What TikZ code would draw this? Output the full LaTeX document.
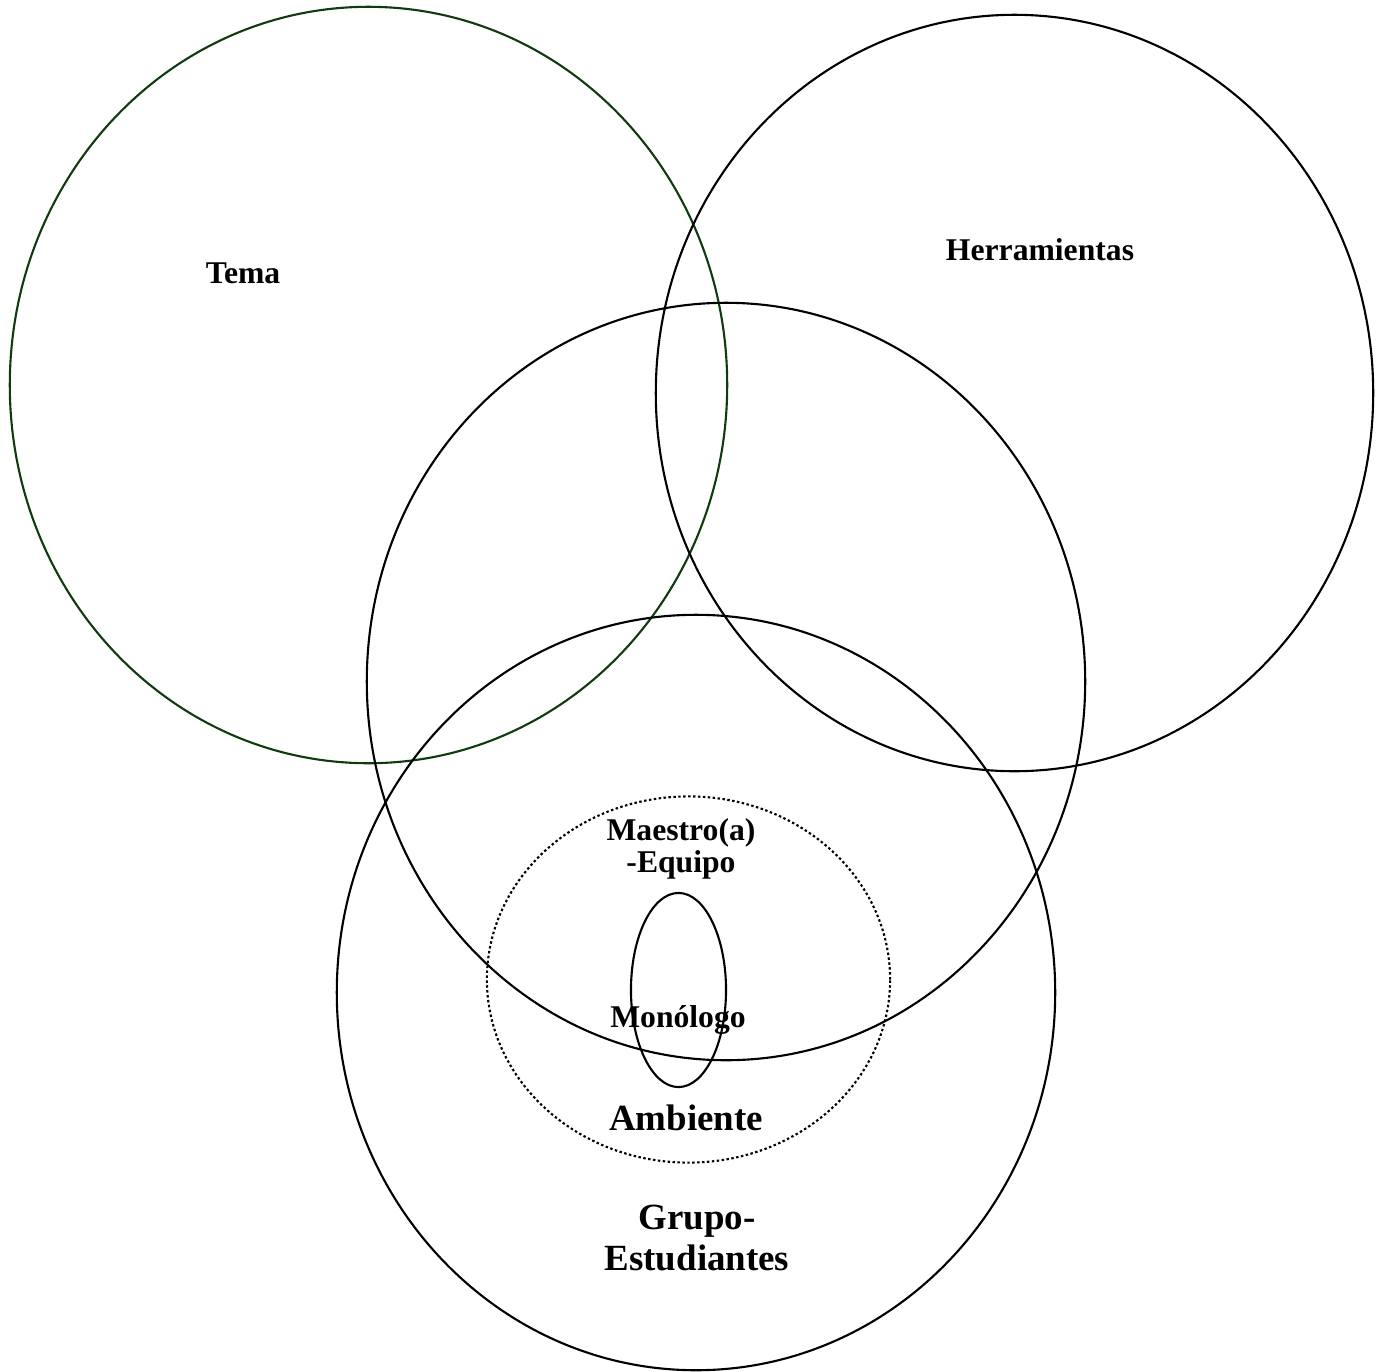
\documentclass[tikz,border=0pt]{standalone}
\usepackage{fontspec}
\setmainfont{Liberation Serif}
\usepackage{tikz}
\usetikzlibrary{shapes.geometric}

\definecolor{verdetema}{RGB}{16,58,16}

\tikzset{
  aro/.style={draw, ellipse, inner sep=0pt, line width=0.6pt},
  rotulo/.style={font=\bfseries\fontsize{9}{9.2}\selectfont, align=center, inner sep=0pt},
  rotulogrande/.style={font=\bfseries\fontsize{10.5}{11.4}\selectfont, align=center, inner sep=0pt}
}

\begin{document}
\begin{tikzpicture}[x=0.01cm, y=-0.01cm]

	\useasboundingbox (0,0) rectangle (1378,1372);

	% Circles
    \node[aro, draw=verdetema, minimum width=7.17cm, minimum height=7.56cm] (tema) at (368.5, 385) {};
    \node[aro, minimum width=7.17cm, minimum height=7.56cm] (herr) at (1014.5, 393) {};
    \node[aro, minimum width=7.18cm, minimum height=7.57cm] (medio) at (726, 681.5) {};
    \node[aro, minimum width=7.18cm, minimum height=7.55cm] (grupo) at (696, 992.5) {};
    \node[aro, dash pattern=on 0.7pt off 0.7pt, minimum width=4.03cm, minimum height=3.66cm] (ambiente) at (688.5, 979.5) {};
    \node[aro, minimum width=0.95cm, minimum height=1.94cm] (monologo) at (678.5, 990) {};

	% Labels
    \node[rotulo] (temalbl) at (243, 273) {Tema};
    \node[rotulo] (herrlbl) at (1040, 250) {Herramientas};
    \node[rotulo] (maestrolbl) at (681, 849) {Maestro(a)\\-Equipo};
    \node[rotulo] (monologolbl) at (678, 1020) {Monólogo};
    \node[rotulogrande] (ambientelbl) at (686, 1118) {Ambiente};
    \node[rotulogrande] (grupolbl) at (697, 1238) {Grupo-\\Estudiantes};

\end{tikzpicture}
\end{document}
